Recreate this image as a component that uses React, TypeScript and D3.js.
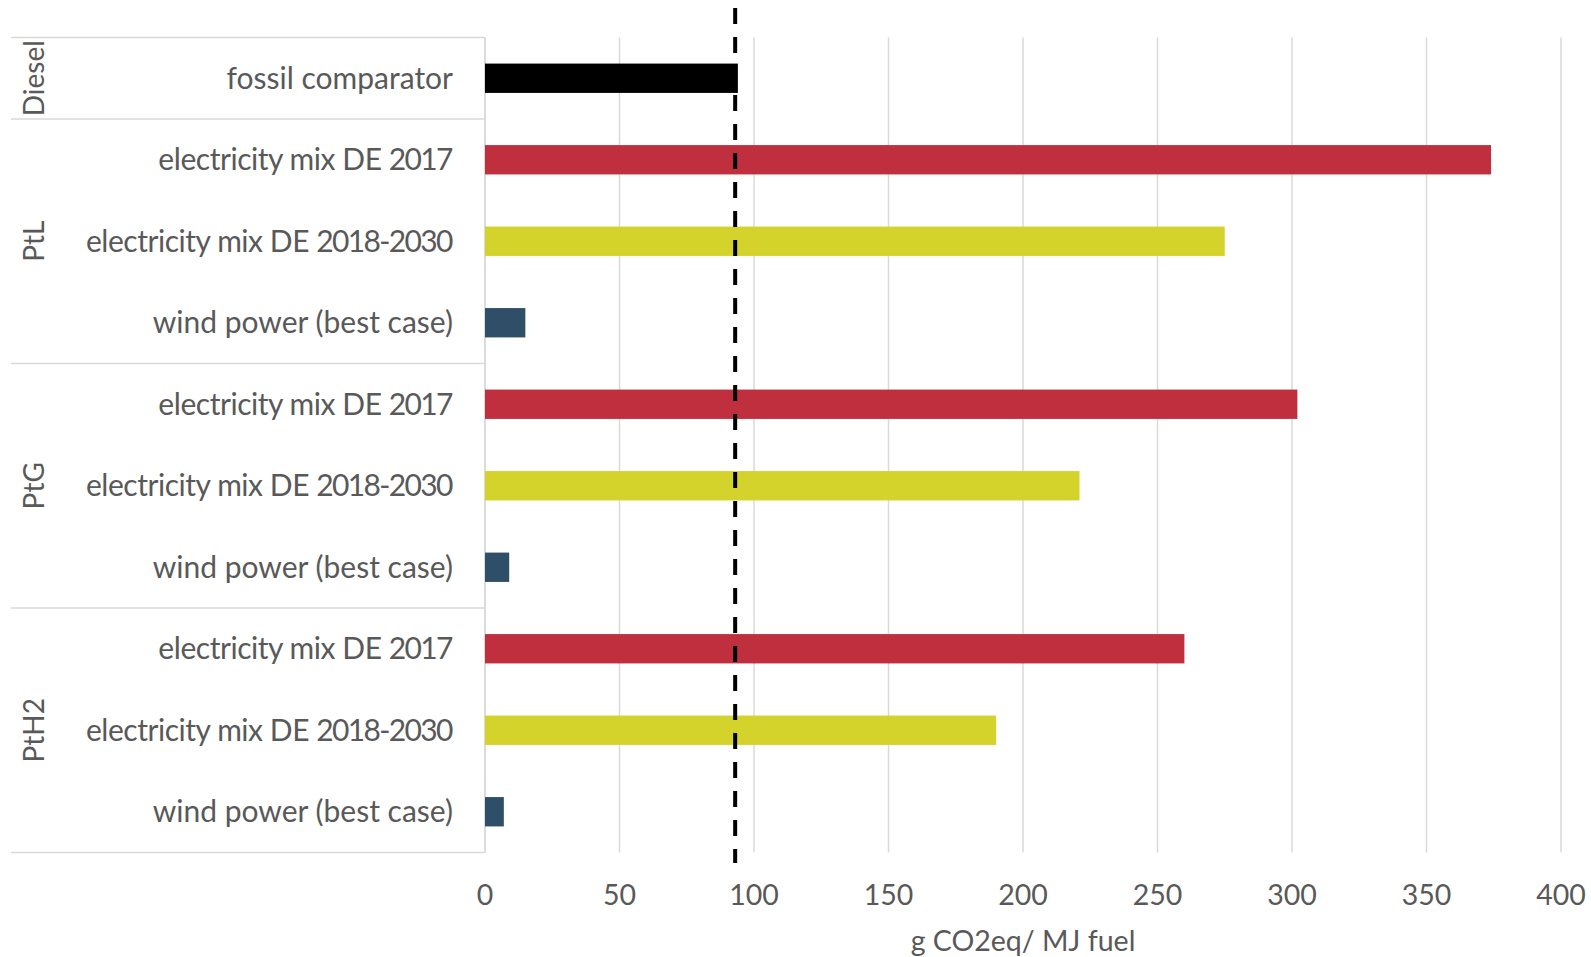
import React from "react";
import * as d3 from "d3";

// Fuel pathways, grouped by product type
const groups = ["Diesel", "PtL", "PtG", "PtH2"];
const groupSizes = [1, 3, 3, 3];
const categories = [
  "fossil comparator",
  "electricity mix DE 2017",
  "electricity mix DE 2018-2030",
  "wind power (best case)",
  "electricity mix DE 2017",
  "electricity mix DE 2018-2030",
  "wind power (best case)",
  "electricity mix DE 2017",
  "electricity mix DE 2018-2030",
  "wind power (best case)",
];
// Emissions in g CO2eq / MJ fuel
const values = [94, 374, 275, 15, 302, 221, 9, 260, 190, 7];
const kinds = ["fossil", "mix2017", "mix2030", "wind", "mix2017", "mix2030", "wind", "mix2017", "mix2030", "wind"];
const colors: Record<string, string> = {
  fossil: "#000000",
  mix2017: "#BF2F3E",
  mix2030: "#D3D32B",
  wind: "#2F4E67",
};
const comparatorValue = 93;
const xTicks = [0, 50, 100, 150, 200, 250, 300, 350, 400];
const xTitle = "g CO2eq/ MJ fuel";

const W = 1591;
const H = 957;
const FONT = "Lato, 'Liberation Sans', sans-serif";
const TEXT = "#595959";
const GRID = "#D9D9D9";

// Lato's figures are wide; tighten labels that carry years
function labelRuns(label: string) {
  const parts = label.split(/(\d[\d-]*\d|\d)/).filter((p) => p.length > 0);
  return parts.map((p, k) =>
    /\d/.test(p) ? (
      <React.Fragment key={k}>
        <tspan letterSpacing={-1.65}>{p.slice(0, -1)}</tspan>
        <tspan>{p.slice(-1)}</tspan>
      </React.Fragment>
    ) : (
      <tspan key={k}>{p}</tspan>
    )
  );
}

export default function App() {
  const top = 37.5;
  const bottom = 852.5;
  const x = d3.scaleLinear().domain([0, 400]).range([485, 1561]);
  const rows = d3.range(categories.length);
  const y = d3
    .scaleBand<number>()
    .domain(rows)
    .range([top, bottom])
    .paddingInner(0.64)
    .paddingOuter(0.32);
  const step = y.step();
  const rowTop = (i: number) => top + i * step;

  // group boundaries in row indices
  const bounds: number[] = [0];
  groupSizes.forEach((s) => bounds.push(bounds[bounds.length - 1] + s));

  return (
    <svg
      width={W}
      height={H}
      style={{ position: "absolute", left: 0, top: 0, background: "#fff" }}
      fontFamily={FONT}
    >
      {/* vertical gridlines */}
      {xTicks.map((t) => (
        <line
          key={"g" + t}
          x1={x(t)}
          x2={x(t)}
          y1={top}
          y2={bottom}
          stroke={GRID}
          strokeWidth={1.5}
        />
      ))}

      {/* category axis frame */}
      {bounds.map((b, i) => (
        <line
          key={"sep" + i}
          x1={11}
          x2={x(0)}
          y1={rowTop(b)}
          y2={rowTop(b)}
          stroke={GRID}
          strokeWidth={1.5}
        />
      ))}
      <line x1={x(0)} x2={x(0)} y1={top} y2={bottom} stroke={GRID} strokeWidth={1.5} />

      {/* bars */}
      {rows.map((i) => (
        <rect
          key={"b" + i}
          x={x(0)}
          y={y(i)}
          width={x(values[i]) - x(0)}
          height={y.bandwidth()}
          fill={colors[kinds[i]]}
        />
      ))}

      {/* category labels */}
      {rows.map((i) => {
        const hasDigits = /\d/.test(categories[i]);
        return (
          <text
            key={"c" + i}
            x={453}
            y={(y(i) as number) + y.bandwidth() / 2 - 1.5}
            textAnchor="end"
            dominantBaseline="central"
            fontSize={30}
            letterSpacing={hasDigits ? -0.45 : 0}
            fill={TEXT}
          >
            {hasDigits ? labelRuns(categories[i]) : categories[i]}
          </text>
        );
      })}

      {/* group labels */}
      {groups.map((g, gi) => {
        const cy = (rowTop(bounds[gi]) + rowTop(bounds[gi + 1])) / 2;
        return (
          <text
            key={"grp" + g}
            transform={`translate(33,${cy}) rotate(-90)`}
            textAnchor="middle"
            dominantBaseline="central"
            fontSize={28}
            fill={TEXT}
          >
            {g}
          </text>
        );
      })}

      {/* fossil comparator reference line */}
      <line
        x1={x(comparatorValue)}
        x2={x(comparatorValue)}
        y1={8}
        y2={863}
        stroke="#000"
        strokeWidth={4}
        strokeDasharray="16 13"
      />

      {/* x tick labels */}
      {xTicks.map((t) => (
        <text
          key={"t" + t}
          x={x(t)}
          y={894}
          textAnchor="middle"
          dominantBaseline="central"
          fontSize={28.5}
          fill={TEXT}
        >
          {t}
        </text>
      ))}

      <text
        x={(x(0) + x(400)) / 2}
        y={940}
        textAnchor="middle"
        dominantBaseline="central"
        fontSize={28.5}
        fill={TEXT}
      >
        {xTitle}
      </text>
    </svg>
  );
}
